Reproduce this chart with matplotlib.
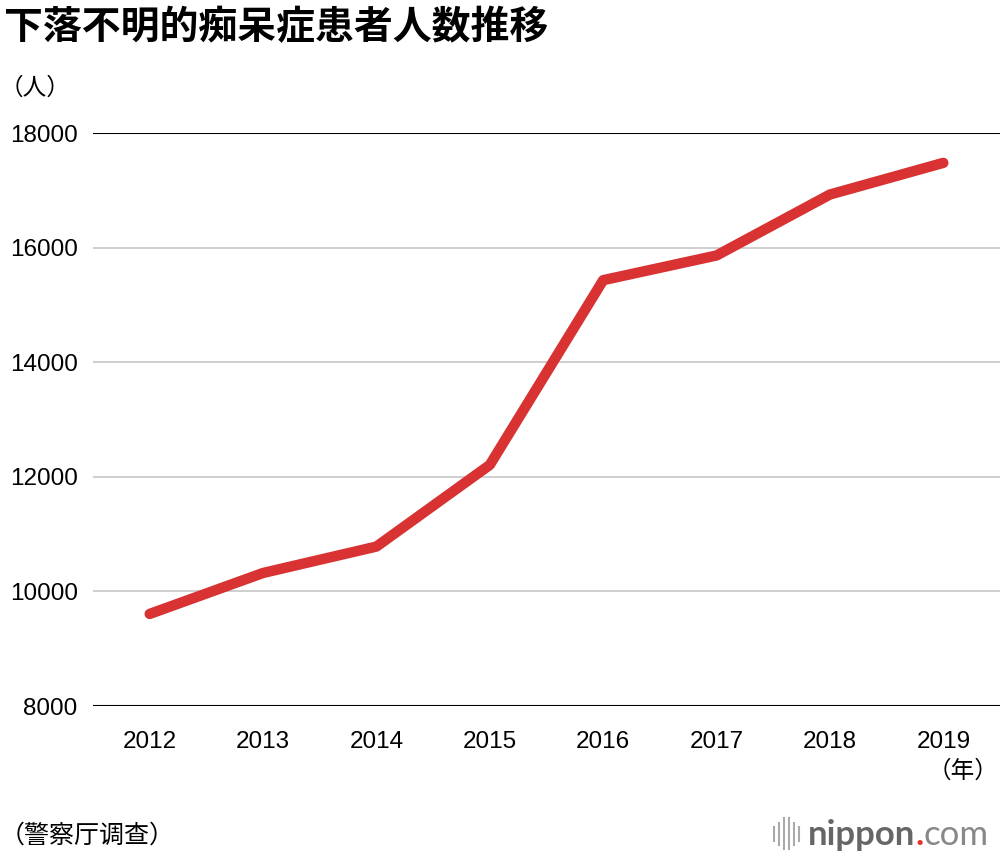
import matplotlib
matplotlib.use('Agg')
import matplotlib.pyplot as plt

plt.rcParams['font.family'] = ['Liberation Sans', 'Noto Sans CJK JP', 'DejaVu Sans']

years = [2012, 2013, 2014, 2015, 2016, 2017, 2018, 2019]
missing = [9607, 10322, 10783, 12208, 15432, 15863, 16927, 17479]
yticks = [8000, 10000, 12000, 14000, 16000, 18000]

fig = plt.figure(figsize=(10, 8.56), dpi=100)
ax = fig.add_axes([0.093, 0.1752, 0.907, 0.6694])

for t in yticks:
    if t in (8000, 18000):
        ax.axhline(t, color='black', linewidth=1.5, zorder=1)
    else:
        ax.axhline(t, color='#cccccc', linewidth=1.3, zorder=1)

ax.plot(years, missing, color='#d83232', linewidth=7.5, solid_capstyle='round',
        solid_joinstyle='round', zorder=3)

ax.set_xlim(2011.5, 2019.5)
ax.set_ylim(8000, 18000)
ax.set_xticks(years)
ax.set_xticklabels([str(y) for y in years], fontsize=17.5)
ax.set_yticks(yticks)
ax.set_yticklabels([str(t) for t in yticks], fontsize=17.5)
ax.tick_params(length=0)
ax.tick_params(axis='y', pad=11)
ax.tick_params(axis='x', pad=18)
for s in ax.spines.values():
    s.set_visible(False)

cjk = ['Noto Sans CJK JP', 'DejaVu Sans']
fig.text(0.004, 0.968, '下落不明的痴呆症患者人数推移', fontsize=28, fontweight='bold',
         family=cjk, ha='left', va='center')
fig.text(0.0, 0.897, '（人）', fontsize=17, family=cjk, ha='left', va='center')
fig.text(0.998, 0.099, '（年）', fontsize=17, family=cjk, ha='right', va='center')
fig.text(0.0, 0.024, '（警察厅调查）', fontsize=18, family=cjk, ha='left', va='center')

# nippon.com logo
fig.canvas.draw()
r = fig.canvas.get_renderer()
t1 = fig.text(0.808, 0.024, 'nippon', fontsize=25, fontweight='bold', color='#666666',
              family='Lato', ha='left', va='center')
x_end = fig.transFigure.inverted().transform(t1.get_window_extent(r))[1][0]
t2 = fig.text(x_end, 0.024, '.', fontsize=25, fontweight='bold', color='#e8302c',
              family='Lato', ha='left', va='center')
x_end = fig.transFigure.inverted().transform(t2.get_window_extent(r))[1][0]
fig.text(x_end, 0.024, 'com', fontsize=25, color='#888888',
         family='Lato', ha='left', va='center')
bar_x = [0.774, 0.779, 0.784, 0.789, 0.794, 0.799]
bar_h = [0.008, 0.013, 0.018, 0.018, 0.013, 0.008]
for bx, bh in zip(bar_x, bar_h):
    fig.add_artist(plt.Line2D([bx, bx], [0.026 - bh, 0.026 + bh], color='#aaaaaa',
                              linewidth=1.5))

fig.savefig('out.png', dpi=100)
